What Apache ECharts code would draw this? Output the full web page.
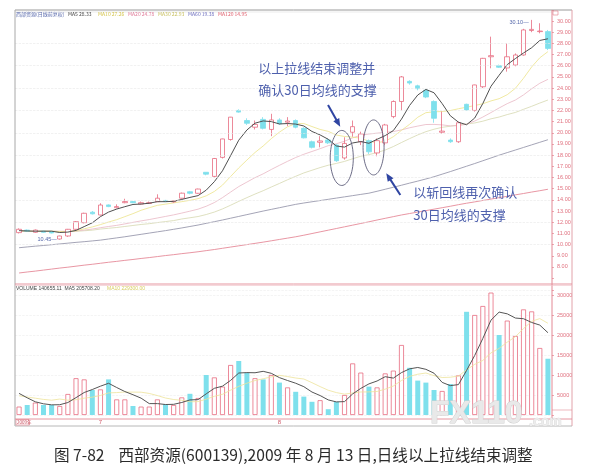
<!DOCTYPE html>
<html>
<head>
<meta charset="utf-8">
<title>西部资源(600139) 日线</title>
<script src="https://cdn.jsdelivr.net/npm/echarts@6.0.0/dist/echarts.min.js"></script>
<style>
html,body{margin:0;padding:0;background:#ffffff;}
#chart{width:608px;height:464px;}
</style>
</head>
<body>
<div id="chart"></div>
<script>
// ---------- data ----------
const open  = [11.07,11.3,11.1,11.2,11.15,10.5,10.77,11.37,11.96,12.9,12.65,13.55,13.3,13.75,13.85,13.63,13.68,13.84,13.95,13.82,14.15,14.73,14.59,16.47,16.1,17.8,19.4,22.0,21.1,20.5,21.2,20.3,21.15,20.95,21.1,20.4,19.2,19.15,19.36,18.9,17.75,20.05,19.2,19.3,18.2,19.1,21.45,22.8,24.6,24.2,23.8,22.8,20.05,19.35,19.2,22.55,22.0,24.12,26.8,26.0,25.8,26.06,26.96,29.15,29.05,29.05];
const close = [11.37,11.2,11.3,11.1,11.04,10.77,11.37,12.05,12.8,12.75,13.54,13.4,13.4,13.85,13.75,13.75,13.75,14.15,13.85,13.9,14.6,14.59,14.97,16.3,17.7,19.45,21.4,21.85,20.85,20.75,20.4,21.15,20.8,21.05,20.5,19.55,18.7,19.27,19.1,17.5,19.05,20.55,19.9,18.3,19.3,20.7,22.8,25.0,24.45,23.95,23.2,21.3,20.15,19.2,20.9,22.05,24.28,26.66,26.9,25.86,26.8,26.96,29.2,29.25,29.1,27.55];
const high  = [11.45,11.35,11.35,11.25,11.2,10.8,11.4,12.1,12.85,13.0,13.7,13.6,13.6,14.1,13.9,13.85,13.85,14.5,14.0,13.95,14.65,14.8,15.0,16.47,17.75,19.47,21.42,22.1,21.3,21.1,21.4,21.7,21.3,21.4,21.2,20.5,19.3,19.7,19.5,19.0,19.6,21.1,20.1,19.4,19.5,20.8,22.9,25.08,24.7,24.3,23.9,22.9,21.9,19.5,21.0,22.6,24.3,26.7,28.6,26.1,28.0,27.1,29.3,30.1,29.8,29.2];
const low   = [11.0,11.15,11.05,11.05,11.0,10.45,10.7,11.3,11.9,12.7,12.6,13.35,13.25,13.7,13.7,13.6,13.65,13.8,13.8,13.75,14.1,14.5,14.55,16.2,16.0,17.7,19.3,21.8,20.7,20.3,20.3,19.7,20.7,20.6,20.4,19.5,18.6,18.7,19.0,17.4,17.6,19.65,18.9,18.1,17.9,18.9,21.3,22.0,24.3,23.8,23.1,20.9,19.9,19.1,19.1,21.95,21.9,24.0,25.77,25.8,25.47,25.95,26.9,29.0,28.9,27.4];

const ma5   = [11.25,11.22,11.2,11.2,11.2,11.08,11.12,11.27,11.61,11.95,12.5,12.91,13.18,13.39,13.59,13.63,13.7,13.84,13.84,13.87,14.04,14.22,14.38,14.87,15.63,16.6,17.96,19.34,20.25,20.86,21.06,21.0,20.79,20.83,20.78,20.61,20.12,19.81,19.42,18.82,18.72,19.09,19.22,19.06,19.42,19.75,20.2,21.22,22.45,23.38,23.88,23.58,22.61,21.53,20.95,20.72,21.32,22.62,24.16,25.15,26.1,26.64,27.14,27.61,28.26,28.41];
const ma10  = [11.23,11.21,11.2,11.2,11.2,11.17,11.17,11.24,11.41,11.58,11.79,12.02,12.23,12.5,12.77,13.07,13.3,13.51,13.62,13.73,13.84,13.96,14.11,14.36,14.75,15.32,16.09,16.86,17.56,18.24,18.82,19.48,20.06,20.54,20.82,20.83,20.56,20.3,20.13,19.8,19.67,19.61,19.52,19.24,19.12,19.24,19.65,20.22,20.76,21.39,21.8,21.88,21.9,21.99,22.15,22.29,22.44,22.6,22.85,23.05,23.41,23.98,24.88,25.89,26.71,27.26];
const ma20  = [11.21,11.2,11.2,11.2,11.2,11.19,11.19,11.22,11.3,11.39,11.51,11.62,11.72,11.85,11.99,12.12,12.24,12.38,12.52,12.66,12.82,12.99,13.17,13.43,13.76,14.2,14.7,15.19,15.59,15.99,16.33,16.72,17.09,17.45,17.79,18.08,18.33,18.58,18.85,19.02,19.25,19.55,19.79,19.89,19.97,20.04,20.11,20.26,20.45,20.6,20.74,20.75,20.71,20.62,20.64,20.77,21.05,21.41,21.81,22.22,22.61,22.93,23.39,23.94,24.43,24.78];
const ma30  = [11.18,11.17,11.17,11.17,11.17,11.16,11.16,11.18,11.24,11.29,11.39,11.46,11.53,11.62,11.71,11.8,11.87,11.97,12.06,12.15,12.29,12.4,12.51,12.69,12.91,13.19,13.52,13.87,14.2,14.52,14.82,15.15,15.47,15.8,16.11,16.41,16.65,16.89,17.1,17.26,17.44,17.68,17.9,18.05,18.23,18.46,18.77,19.13,19.48,19.81,20.1,20.32,20.49,20.59,20.7,20.79,20.88,21.04,21.25,21.41,21.63,21.82,22.1,22.37,22.66,22.93];
const ma60  = [9.72,9.79,9.86,9.92,9.99,10.06,10.13,10.2,10.26,10.33,10.4,10.5,10.6,10.7,10.81,10.92,11.03,11.14,11.25,11.37,11.49,11.62,11.75,11.9,12.05,12.2,12.36,12.52,12.68,12.84,13.0,13.15,13.3,13.45,13.6,13.72,13.83,13.94,14.05,14.16,14.27,14.38,14.49,14.6,14.77,14.95,15.13,15.31,15.5,15.68,15.87,16.07,16.3,16.53,16.77,17.01,17.25,17.5,17.75,18.0,18.23,18.46,18.69,18.92,19.15,19.38];
const ma120 = [7.46,7.55,7.63,7.72,7.81,7.9,7.98,8.07,8.16,8.24,8.33,8.42,8.5,8.59,8.67,8.76,8.84,8.93,9.02,9.1,9.19,9.27,9.36,9.46,9.56,9.67,9.78,9.89,10.0,10.11,10.22,10.34,10.46,10.58,10.7,10.84,10.99,11.14,11.29,11.44,11.59,11.74,11.89,12.04,12.2,12.35,12.5,12.65,12.78,12.91,13.04,13.17,13.3,13.43,13.57,13.7,13.82,13.95,14.07,14.2,14.32,14.45,14.57,14.7,14.82,14.95];

const volume = [2100,2500,3100,2500,2500,2250,5250,9200,8900,6250,6400,8900,3900,3900,2250,2100,2100,3900,2750,2500,4400,5300,4250,10000,9400,7100,12500,13500,10500,9200,8900,10000,8100,6900,5800,4600,3300,3700,1450,3300,5000,12900,10600,7100,6900,10400,11100,17500,11800,8600,8100,6250,6000,7750,9900,25800,25000,27250,30600,20000,23600,19750,26400,25900,16750,14066];
const volMa5  = [5400,4300,3300,2800,2540,2570,3120,4340,5620,6370,7200,7930,6870,5870,5070,4210,2850,2850,2620,2670,3130,3770,3840,5290,6670,7210,8650,10500,10600,10560,10920,10420,9340,8620,7940,7080,5740,4860,3770,3270,3350,5270,6650,7780,8500,9580,9220,10600,11540,11880,11420,10450,8150,7340,7600,11140,14890,19140,23710,25730,25290,24240,24070,23130,22480,20571];
const volMa10 = [4800,4500,4200,3900,3700,3985,3710,3820,4210,4455,4885,5525,5605,5745,5720,5705,5390,4860,4245,3870,3670,3310,3345,3955,4670,5170,6210,7170,7945,8615,9065,9535,9920,9610,9250,9000,8080,7100,6195,5605,5215,5505,5755,5775,5885,6465,7245,8625,9660,10190,10500,9835,9375,9440,9740,11280,12670,13645,15525,16665,18215,19565,21605,23420,24105,22930];

// tick labels / levels
const monthLabels = {10: '7', 32: '8'};
const priceGridLevels = [10, 12, 14, 16, 18, 20, 22, 24, 26, 28];
const priceHeader = [
  {text: '西部资源(日线前复权)', color: '#5566aa'},
  {text: 'MA5 28.33', color: '#444444'},
  {text: 'MA10 27.26', color: '#d4c44a'},
  {text: 'MA20 24.78', color: '#e07a98'},
  {text: 'MA30 22.93', color: '#c8c060'},
  {text: 'MA60 19.38', color: '#6f70c0'},
  {text: 'MA120 14.95', color: '#e0606e'}
];
const volHeader = [
  {text: 'VOLUME 140655.11  MA5 205708.20', color: '#444444'},
  {text: 'MA10 229300.00', color: '#d8cc60'}
];

// annotations, anchored in data coordinates [category index, price]
const notes = [
  {text: '以上拉线结束调整并', at: [29.4, 25.77]},
  {text: '确认30日均线的支撑', at: [29.4, 23.83]},
  {text: '以斩回线再次确认', at: [48.45, 14.73]},
  {text: '30日均线的支撑', at: [48.45, 12.65]}
];
const arrows = [
  {from: [37.97, 22.49], to: [39.47, 20.55]},
  {from: [46.86, 14.44], to: [45.13, 16.38]}
];
const ellipses = [
  {c: [39.66, 17.75], rx: 1.42, ry: 2.46},
  {c: [43.57, 18.69], rx: 1.29, ry: 2.46}
];
const extremes = [
  {idx: 5, price: 10.45, text: '10.45—'},
  {idx: 63, price: 30.10, text: '30.10—'}
];

// ---------- chart ----------
const N = close.length;
const categories = open.map((_, i) => 'D' + (i + 1));
const UP_BORDER = '#e76c80';
const DOWN_FILL = '#7ee0ec';
const AXIS_PINK = '#e0707e';

const candleData = open.map((o, i) => [o, close[i], low[i], high[i]]);
const volData = volume.map((v, i) => ({
  value: v,
  itemStyle: close[i] >= open[i]
    ? {color: '#ffffff', borderColor: UP_BORDER, borderWidth: 0.8}
    : {color: DOWN_FILL, borderColor: DOWN_FILL, borderWidth: 0}
}));

const chart = echarts.init(document.getElementById('chart'));

function lineSeries(name, data, color, width, z, xi, yi) {
  return {
    name, type: 'line', data, xAxisIndex: xi, yAxisIndex: yi,
    showSymbol: false, symbol: 'none', smooth: false, z,
    lineStyle: {color, width}, emphasis: {disabled: true}, silent: true
  };
}

const option = {
  animation: false,
  backgroundColor: '#ffffff',
  textStyle: {fontFamily: '"Liberation Sans", "Noto Sans CJK SC", sans-serif'},
  grid: [
    {left: 15, top: 9.82, width: 537, height: 268.32},
    {left: 15, top: 290, width: 537, height: 125}
  ],
  xAxis: [
    {type: 'category', gridIndex: 0, data: categories, boundaryGap: true,
     axisLine: {show: false}, axisTick: {show: false}, axisLabel: {show: false}, splitLine: {show: false}},
    {type: 'category', gridIndex: 1, data: categories, boundaryGap: true,
     axisLine: {show: false}, axisTick: {show: false}, splitLine: {show: false},
     axisLabel: {show: true, interval: 0, fontSize: 6, color: '#d05a6a', margin: 4,
                 formatter: (v, idx) => monthLabels[idx] || ''}}
  ],
  yAxis: [
    {type: 'value', gridIndex: 0, position: 'right', min: 7, max: 31, interval: 1, scale: false,
     axisLine: {show: false},
     axisTick: {show: true, length: 2, lineStyle: {color: AXIS_PINK, width: 0.6}},
     splitLine: {show: false},
     axisLabel: {show: true, fontSize: 5.5, color: AXIS_PINK, margin: 5,
                 formatter: v => (v >= 8 && v <= 30) ? v.toFixed(2) : ''}},
    {type: 'value', gridIndex: 1, position: 'right', min: 0, max: 31250, interval: 5000,
     axisLine: {show: false},
     axisTick: {show: true, length: 2, lineStyle: {color: AXIS_PINK, width: 0.6}},
     splitLine: {show: true, lineStyle: {color: '#ececec', type: 'dashed', width: 0.6}},
     axisLabel: {show: true, fontSize: 5.5, color: AXIS_PINK, margin: 5,
                 formatter: v => (v > 0 && v % 5000 === 0) ? String(v) : ''}}
  ],
  series: [
    Object.assign(lineSeries('MA120', ma120, '#e58a98', 0.9, 2, 0, 0), {
      markLine: {silent: true, symbol: ['none', 'none'], label: {show: false},
                 lineStyle: {color: '#e8e8e8', type: 'dashed', width: 0.6},
                 data: priceGridLevels.map(v => ({yAxis: v}))}
    }),
    lineSeries('MA60', ma60, '#9a9aae', 0.9, 2, 0, 0),
    lineSeries('MA30', ma30, '#d6d8b0', 0.8, 2, 0, 0),
    lineSeries('MA20', ma20, '#e9b7c4', 0.8, 2, 0, 0),
    lineSeries('MA10', ma10, '#ece38a', 0.8, 2, 0, 0),
    {
      name: 'K', type: 'candlestick', data: candleData, xAxisIndex: 0, yAxisIndex: 0,
      barWidth: 5, z: 3, silent: true,
      itemStyle: {color: '#ffffff', color0: DOWN_FILL, borderColor: UP_BORDER, borderColor0: DOWN_FILL, borderWidth: 0.8}
    },
    lineSeries('MA5', ma5, '#505050', 1.0, 4, 0, 0),
    {
      name: 'VOL', type: 'bar', data: volData, xAxisIndex: 1, yAxisIndex: 1,
      barWidth: 5, z: 3, silent: true
    },
    lineSeries('VMA10', volMa10, '#eee39a', 0.8, 4, 1, 1),
    lineSeries('VMA5', volMa5, '#555555', 1.0, 5, 1, 1)
  ]
};
chart.setOption(option);

// ---------- annotations & frame ----------
function P(cat, price) {
  const i0 = Math.max(0, Math.min(N - 2, Math.floor(cat)));
  const a = chart.convertToPixel({xAxisIndex: 0, yAxisIndex: 0}, [i0, price]);
  const b = chart.convertToPixel({xAxisIndex: 0, yAxisIndex: 0}, [i0 + 1, price]);
  return [a[0] + (b[0] - a[0]) * (cat - i0), a[1]];
}

const g = [];
function L(x1, y1, x2, y2, color, w) {
  g.push({type: 'line', silent: true, z: 50, shape: {x1, y1, x2, y2}, style: {stroke: color, lineWidth: w}});
}
function T(text, x, y, font, fill, align, z, extra) {
  g.push({type: 'text', silent: true, z: z || 60, x, y,
    style: Object.assign({text, font, fill, align: align || 'left', verticalAlign: 'middle',
            textAlign: align || 'left', textVerticalAlign: 'middle'}, extra || {})});
}

// frame
L(15, 10, 572, 10, '#9a9a9a', 1);
L(15, 12, 552, 12, '#dddddd', 0.6);
L(15, 10, 15, 426, '#a8a8a8', 1);
L(572, 10, 572, 426, '#e2a2aa', 1);
L(552, 10, 552, 419, '#e07a88', 0.9);
L(15, 284, 572, 284, '#e38a95', 0.9);
L(15, 285.5, 572, 285.5, '#f0c0c6', 0.6);
L(15, 419, 572, 419, '#e38a95', 0.9);
L(15, 426, 572, 426, '#b0b0b0', 0.9);
L(552, 410, 572, 410, '#e38a95', 0.6);
g.push({type: 'rect', silent: true, z: 50, shape: {x: 553, y: 11, width: 5, height: 4},
        style: {fill: 'none', stroke: '#e07a88', lineWidth: 0.6}});

// headers
let hx = 16;
priceHeader.forEach((h, k) => {
  T(h.text, hx, 14, '5px "Noto Sans CJK SC", "Liberation Sans"', h.color);
  hx += (k === 0 ? 52 : 30);
});
T(volHeader[0].text, 16, 288.5, '5px "Liberation Sans"', volHeader[0].color);
T(volHeader[1].text, 107, 288.5, '5px "Liberation Sans"', volHeader[1].color);

// date strip
g.push({type: 'rect', silent: true, z: 50, shape: {x: 16, y: 419.5, width: 13, height: 5.5},
        style: {fill: 'none', stroke: '#e07a88', lineWidth: 0.6}});
T('2009年', 17, 422.3, '4.5px "Noto Sans CJK SC"', '#c84a5a');

// extreme-value labels
extremes.forEach(e => {
  const p = P(e.idx, e.price);
  T(e.text, p[0] - 3, p[1] + (e.price > 20 ? 2.5 : 0), '5.5px "Liberation Sans"', '#5567aa', 'right');
});

// ellipses
ellipses.forEach(e => {
  const c = P(e.c[0], e.c[1]);
  const rx = P(e.c[0] + e.rx, e.c[1])[0] - c[0];
  const ry = c[1] - P(e.c[0], e.c[1] + e.ry)[1];
  const pts = [];
  for (let k = 0; k <= 60; k++) {
    const t = k / 60 * Math.PI * 2;
    pts.push([c[0] + rx * Math.cos(t), c[1] + ry * Math.sin(t)]);
  }
  g.push({type: 'polyline', silent: true, z: 70, shape: {points: pts},
          style: {stroke: '#5b5b78', lineWidth: 0.9, fill: 'none'}});
});

// arrows
arrows.forEach(a => {
  const A = P(a.from[0], a.from[1]);
  const B = P(a.to[0], a.to[1]);
  const dx = B[0] - A[0], dy = B[1] - A[1];
  const len = Math.hypot(dx, dy);
  const ux = dx / len, uy = dy / len, nx = -uy, ny = ux;
  const hl = 8, hw = 3.4;
  const base = [B[0] - ux * hl, B[1] - uy * hl];
  g.push({type: 'line', silent: true, z: 70, shape: {x1: A[0], y1: A[1], x2: base[0] + ux * 1, y2: base[1] + uy * 1},
          style: {stroke: '#2f45a2', lineWidth: 2}});
  g.push({type: 'polygon', silent: true, z: 70,
          shape: {points: [B, [base[0] + nx * hw, base[1] + ny * hw], [base[0] - nx * hw, base[1] - ny * hw]]},
          style: {fill: '#2f45a2'}});
});

// notes
notes.forEach(n => {
  const p = P(n.at[0], n.at[1]);
  T(n.text, p[0], p[1], '13px "Noto Sans CJK SC"', '#4e60ad');
});

// watermark
T('FX110', 430, 414, 'bold 32px "Liberation Sans"', '#e9e9e9', 'left', 80,
  {stroke: '#cfcfcf', lineWidth: 1});
T('.com', 529, 422, 'bold 14px "Liberation Sans"', '#ececec', 'left', 80,
  {stroke: '#d4d4d4', lineWidth: 0.7});

// caption
T('图 7-82    西部资源(600139),2009 年 8 月 13 日,日线以上拉线结束调整', 54, 455,
  '15.6px "Noto Sans CJK SC"', '#2b2b2b', 'left', 60);

chart.setOption({graphic: {elements: g}});
</script>
</body>
</html>
